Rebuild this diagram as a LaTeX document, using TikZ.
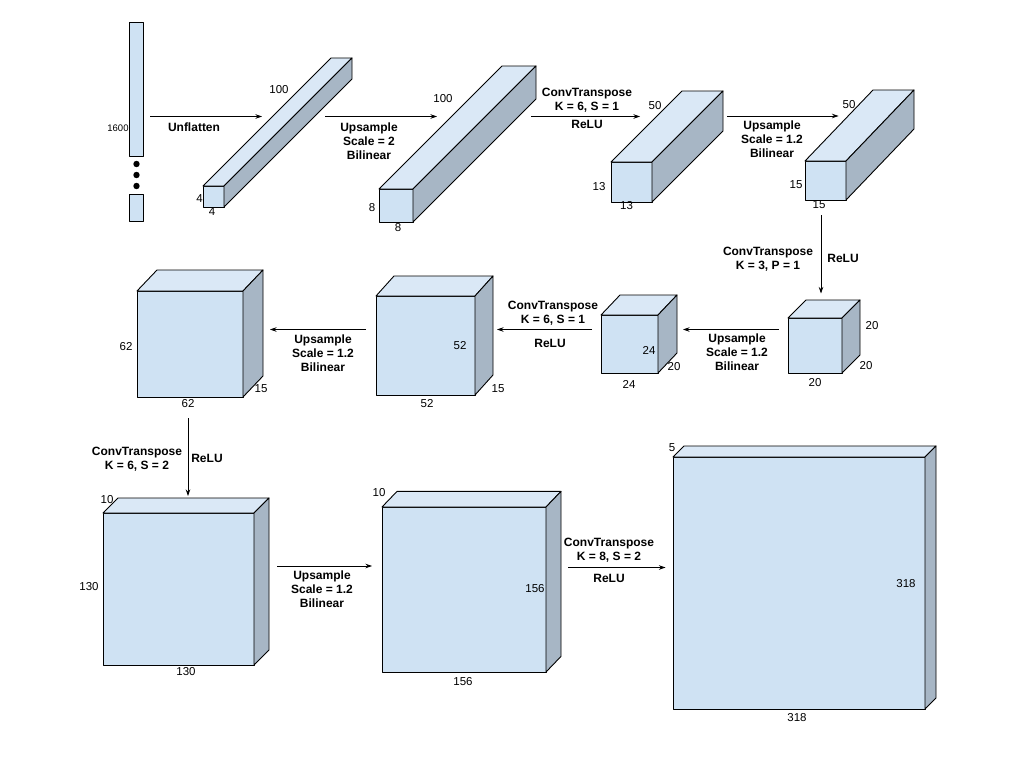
\documentclass[tikz,border=0pt]{standalone}
\usepackage{fontspec}
\setmainfont{Liberation Sans}
\usetikzlibrary{arrows.meta}
\definecolor{topc}{HTML}{DAE8F6}
\definecolor{frontc}{HTML}{CFE2F3}
\definecolor{sidec}{HTML}{A7B6C5}
\tikzset{
  edge/.style={draw=black, line width=0.9pt, line join=round},
  conn/.style={draw=black, line width=0.8pt, -{Stealth[length=6.5pt,width=4.5pt]}},
  dim/.style={inner sep=0pt, font=\fontsize{11.5}{13}\selectfont},
  lab/.style={inner sep=0pt, align=center, font=\fontsize{12}{14}\selectfont\bfseries},
}
% cuboid: name, x1, y1, x2, y2, dx, dy
\newcommand\mycuboid[7]{%
  \coordinate (#1-fl) at (#2,#3);
  \coordinate (#1-br) at (#4,#5);
  \filldraw[edge, fill=frontc] (#2,#3) rectangle (#4,#5);
  \filldraw[edge, fill=topc] (#2,#3) -- ({#2+#6},{#3+#7}) -- ({#4+#6},{#3+#7}) -- (#4,#3) -- cycle;
  \filldraw[edge, fill=sidec] (#4,#3) -- ({#4+#6},{#3+#7}) -- ({#4+#6},{#5+#7}) -- (#4,#5) -- cycle;
}
\begin{document}
\begin{tikzpicture}[x=1pt,y=-1pt]
\useasboundingbox (0,0) rectangle (1024,768);
\fill[white] (0,0) rectangle (1024,768);

% input vector
\filldraw[edge, fill=frontc] (129,22) rectangle (143.5,156);
\fill (136.5,164) circle (3.2);
\fill (136.5,175) circle (3.2);
\fill (136.5,186) circle (3.2);
\filldraw[edge, fill=frontc] (129,194) rectangle (143.5,221);
\node[dim, font=\fontsize{9.5}{11}\selectfont] (v1600) at (118,128) {1600};

% cuboids
\mycuboid{c1}{203}{186}{224}{207}{128}{-128}
\mycuboid{c2}{379}{189}{413}{222}{123}{-123}
\mycuboid{c3}{611}{162}{652}{202}{71}{-71}
\mycuboid{c4}{805}{161}{846}{200}{68}{-71}
\mycuboid{c5}{788}{318}{842}{373}{18}{-18}
\mycuboid{c6}{601}{315}{658}{373}{19}{-20}
\mycuboid{c7}{376}{296}{475}{395}{18}{-20}
\mycuboid{c8}{137}{291}{243}{397}{20}{-21}
\mycuboid{c9}{103}{513}{254}{665}{15}{-15}
\mycuboid{c10}{382}{507}{546}{672}{15}{-15.6}
\mycuboid{c11}{673}{457}{925}{709}{11}{-11}

% dimension labels
\node[dim] (d1a) at (279,90) {100};
\node[dim] (d1b) at (199.5,199) {4};
\node[dim] (d1c) at (212,212) {4};
\node[dim] (d2a) at (443,99) {100};
\node[dim] (d2b) at (372,208) {8};
\node[dim] (d2c) at (398,228) {8};
\node[dim] (d3a) at (655,106) {50};
\node[dim] (d3b) at (599,187) {13};
\node[dim] (d3c) at (626.5,206) {13};
\node[dim] (d4a) at (849,105) {50};
\node[dim] (d4b) at (796,185) {15};
\node[dim] (d4c) at (819,205) {15};
\node[dim] (d5a) at (872,326) {20};
\node[dim] (d5b) at (866,366) {20};
\node[dim] (d5c) at (815,383) {20};
\node[dim] (d6a) at (649,350) {24};
\node[dim] (d6b) at (674,367) {20};
\node[dim] (d6c) at (629,384) {24};
\node[dim] (d7a) at (460,346) {52};
\node[dim] (d7b) at (498,389) {15};
\node[dim] (d7c) at (427,404) {52};
\node[dim] (d8a) at (126,347) {62};
\node[dim] (d8b) at (261,389) {15};
\node[dim] (d8c) at (188,404) {62};
\node[dim] (d9a) at (107,500) {10};
\node[dim] (d9b) at (89,587) {130};
\node[dim] (d9c) at (186,672) {130};
\node[dim] (d10a) at (379,493) {10};
\node[dim] (d10b) at (535,589) {156};
\node[dim] (d10c) at (463,682) {156};
\node[dim] (d11a) at (672,448) {5};
\node[dim] (d11b) at (906,584) {318};
\node[dim] (d11c) at (797,718) {318};

% connectors
\coordinate (a1s) at (150,116.5); \coordinate (a1e) at (262,116.5);
\coordinate (a2s) at (325,116.5); \coordinate (a2e) at (437,116.5);
\coordinate (a3s) at (531,116.5); \coordinate (a3e) at (640,116.5);
\coordinate (a4s) at (727,116); \coordinate (a4e) at (838.5,116);
\coordinate (a5s) at (821,215); \coordinate (a5e) at (821,293.5);
\coordinate (a6s) at (778.5,329.5); \coordinate (a6e) at (683,329.5);
\coordinate (a7s) at (592,329.5); \coordinate (a7e) at (497,329.5);
\coordinate (a8s) at (366,329.5); \coordinate (a8e) at (270,329.5);
\coordinate (a9s) at (188,418); \coordinate (a9e) at (188,496);
\coordinate (a10s) at (277,566); \coordinate (a10e) at (372,566);
\coordinate (a11s) at (568,567.5); \coordinate (a11e) at (665.5,567.5);
\foreach \i in {1,...,11} { \draw[conn] (a\i s) -- (a\i e); }

% connector labels
\node[lab] (l1) at (194,127) {Unflatten};
\node[lab] (l2) at (369,141) {Upsample\\Scale = 2\\Bilinear};
\node[lab] (l3a) at (587,100.5) {ConvTranspose\\K = 6, S = 1};
\node[lab] (l3b) at (587,124.5) {ReLU};
\node[lab] (l4) at (772,139) {Upsample\\Scale = 1.2\\Bilinear};
\node[lab] (l5a) at (768,259) {ConvTranspose\\K = 3, P = 1};
\node[lab] (l5b) at (843,258) {ReLU};
\node[lab] (l6) at (737,352) {Upsample\\Scale = 1.2\\Bilinear};
\node[lab] (l7a) at (553,313) {ConvTranspose\\K = 6, S = 1};
\node[lab] (l7b) at (550,343) {ReLU};
\node[lab] (l8) at (323,353) {Upsample\\Scale = 1.2\\Bilinear};
\node[lab] (l9a) at (137,459) {ConvTranspose\\K = 6, S = 2};
\node[lab] (l9b) at (207,458) {ReLU};
\node[lab] (l10) at (322,589) {Upsample\\Scale = 1.2\\Bilinear};
\node[lab] (l11a) at (609,550.5) {ConvTranspose\\K = 8, S = 2};
\node[lab] (l11b) at (609,578) {ReLU};
\end{tikzpicture}
\end{document}
